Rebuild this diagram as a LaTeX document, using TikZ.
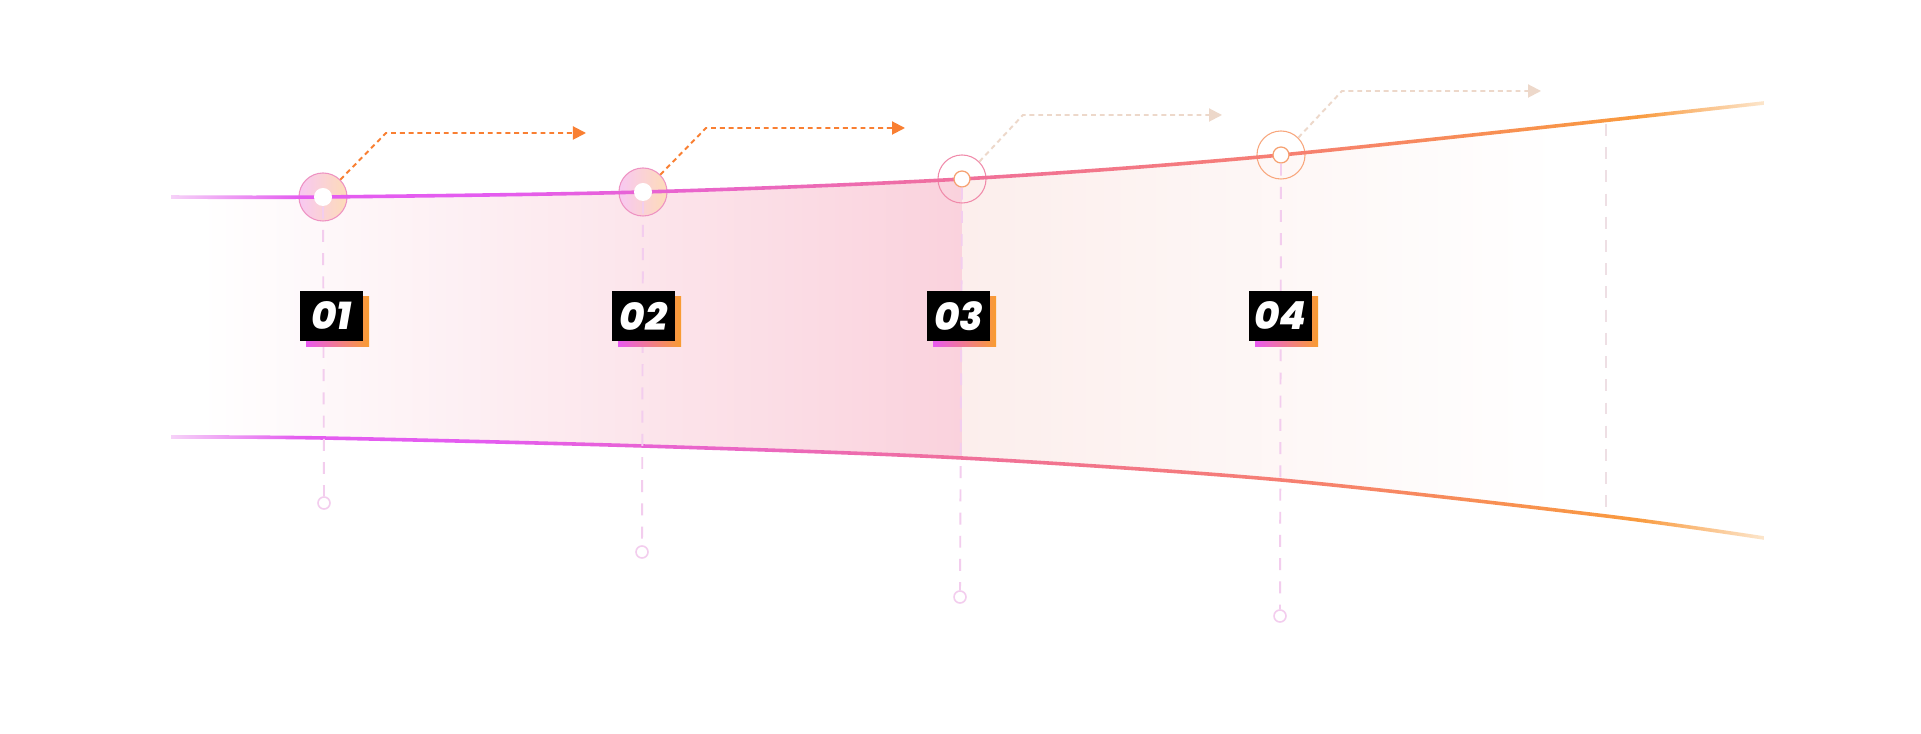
\documentclass[tikz,border=0pt]{standalone}
\usepackage{fontspec}
\usetikzlibrary{arrows.meta}
\newfontfamily\numfont{Poppins}[BoldItalicFont=* ExtraBold Italic]

\definecolor{lnFade}{HTML}{F6D2F8}
\definecolor{lnMag}{HTML}{E45CF0}
\definecolor{lnPink}{HTML}{F0709A}
\definecolor{lnSalmon}{HTML}{F67F72}
\definecolor{lnOrg}{HTML}{F99A3E}
\definecolor{lnPale}{HTML}{FCE6CC}
\definecolor{bandMid}{HTML}{FBE6F0}
\definecolor{bandDeep}{HTML}{FAD2DD}
\definecolor{bandLight}{HTML}{FCEEEC}
\definecolor{ringL}{HTML}{F8C8F2}
\definecolor{ringR}{HTML}{FDDCB8}
\definecolor{ringEdge}{HTML}{EE92C2}
\definecolor{ringPink}{HTML}{F08AAA}
\definecolor{ringOrg}{HTML}{F8A67C}
\definecolor{holeOrg}{HTML}{F6A070}
\definecolor{dropLine}{HTML}{F3CDEE}
\definecolor{faintLine}{HTML}{EEDFE4}
\definecolor{flowHot}{HTML}{F97F32}
\definecolor{flowSoft}{HTML}{EDD8CA}
\definecolor{shadeMag}{HTML}{E85AF0}
\definecolor{shadeOrg}{HTML}{F99C30}

\pgfdeclarehorizontalshading{curveshade}{100bp}{color(0bp)=(lnFade); color(25bp)=(lnFade); color(29bp)=(lnMag); color(35bp)=(lnMag); color(50bp)=(lnPink); color(60bp)=(lnSalmon); color(71bp)=(lnOrg); color(75bp)=(lnPale); color(100bp)=(lnPale)}

\begin{document}
\begin{tikzpicture}[x=0.01cm, y=-0.01cm,
  ring/.style={circle, inner sep=0pt, minimum size=0.48cm, line width=0.3pt},
  hole/.style={circle, inner sep=0pt, minimum size=0.18cm, fill=white},
  endmark/.style={circle, inner sep=0pt, minimum size=0.12cm, draw=dropLine, line width=0.45pt, fill=white},
  dropline/.style={draw=dropLine, line width=0.55pt, dash pattern=on 3.4pt off 3.2pt},
  flow/.style={line width=0.55pt, dash pattern=on 1.4pt off 1.1pt, -{Triangle[length=0.13cm, width=0.13cm]}},
  numbox/.style={fill=black, text=white, inner sep=0pt, minimum width=0.63cm, minimum height=0.5cm,
    font=\numfont\bfseries\itshape\fontsize{11}{13}\selectfont}]
% Canvas
\fill[white] (0,0) rectangle (1921,734);
\useasboundingbox (0,0) rectangle (1921,734);

% Stage points on the upper curve
\coordinate (p1) at (323,197);
\coordinate (p2) at (643,192);
\coordinate (p3) at (962,179);
\coordinate (p4) at (1281,155);

% Band between the curves
\begin{scope}
\clip plot[smooth] coordinates {(171,197) (323,197) (643,192) (962,179) (1281,155) (1764,103)}
  -- plot[smooth] coordinates {(1764,538) (1606,516) (1281,480) (962,458) (643,446) (323,438) (171,437)} -- cycle;
\shade[left color=white, middle color=bandMid, right color=bandDeep] (200,90) rectangle (962,560);
\shade[left color=bandLight, right color=white] (962,90) rectangle (1560,560);
\end{scope}

% Rings
\node[ring, draw=ringEdge, left color=ringL, right color=ringR] (c1) at (p1) {};
\node[ring, draw=ringEdge, left color=ringL, right color=ringR] (c2) at (p2) {};
\node[ring, draw=ringPink] (c3) at (p3) {};
\node[ring, draw=ringOrg] (c4) at (p4) {};

% Upper curve
\begin{scope}
\clip plot[smooth] coordinates {(171,195.2) (323,195.2) (643,190.2) (962,177.2) (1281,153.2) (1764,101.2)}
  -- plot[smooth] coordinates {(1764,104.8) (1281,156.8) (962,180.8) (643,193.8) (323,198.8) (171,198.8)} -- cycle;
\shade[shading=curveshade] (171,90) rectangle (1764,210);
\end{scope}

% Lower curve
\begin{scope}
\clip plot[smooth] coordinates {(171,435.2) (323,436.2) (643,444.2) (962,456.2) (1281,478.2) (1606,514.2) (1764,536.2)}
  -- plot[smooth] coordinates {(1764,539.8) (1606,517.8) (1281,481.8) (962,459.8) (643,447.8) (323,439.8) (171,438.8)} -- cycle;
\shade[shading=curveshade] (171,420) rectangle (1764,550);
\end{scope}

% Holes
\node[hole] (h1) at (p1) {};
\node[hole] (h2) at (p2) {};
\node[hole, minimum size=0.16cm, draw=holeOrg, line width=0.35pt] (h3) at (p3) {};
\node[hole, minimum size=0.16cm, draw=holeOrg, line width=0.35pt] (h4) at (p4) {};

% Drop lines
\node[endmark] (e1) at (324,503) {};
\node[endmark] (e2) at (642,552) {};
\node[endmark] (e3) at (960,597) {};
\node[endmark] (e4) at (1280,616) {};
\draw[dropline] (h1.south) -- (e1.north);
\draw[dropline] (h2.south) -- (e2.north);
\draw[dropline] (h3.south) -- (e3.north);
\draw[dropline] (h4.south) -- (e4.north);
\coordinate (t5) at (1606,124);
\coordinate (b5) at (1606,514);
\draw[dropline, draw=faintLine] (t5) -- (b5);

% Arrows
\coordinate (k1) at (386,133);
\coordinate (a1) at (586,133);
\coordinate (k2) at (706,128);
\coordinate (a2) at (905,128);
\coordinate (k3) at (1023,115);
\coordinate (a3) at (1222,115);
\coordinate (k4) at (1342,91);
\coordinate (a4) at (1541,91);
\draw[flow, draw=flowHot] (c1.45) -- (k1) -- (a1);
\draw[flow, draw=flowHot] (c2.45) -- (k2) -- (a2);
\draw[flow, draw=flowSoft] (c3.45) -- (k3) -- (a3);
\draw[flow, draw=flowSoft] (c4.45) -- (k4) -- (a4);

% Labels
\shade[left color=shadeMag, right color=shadeOrg] (306,297) rectangle (369,347);
\node[numbox] (n1) at (331.5,316) {01};
\shade[left color=shadeMag, right color=shadeOrg] (618,297) rectangle (681,347);
\node[numbox] (n2) at (643.5,316) {02};
\shade[left color=shadeMag, right color=shadeOrg] (933,297) rectangle (996,347);
\node[numbox] (n3) at (958.5,316) {03};
\shade[left color=shadeMag, right color=shadeOrg] (1255,297) rectangle (1318,347);
\node[numbox] (n4) at (1280.5,316) {04};
\end{tikzpicture}
\end{document}
